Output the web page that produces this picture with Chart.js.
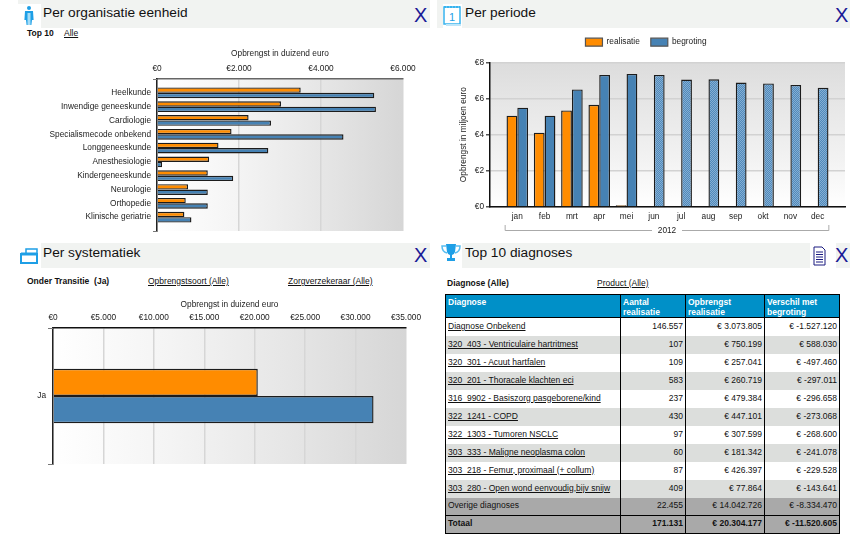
<!DOCTYPE html>
<html><head><meta charset="utf-8">
<script src="https://cdn.jsdelivr.net/npm/chart.js@4"></script>
<style>
html,body{margin:0;padding:0;background:#fff;width:850px;height:546px;overflow:hidden;font-family:"Liberation Sans",Arial,sans-serif;color:#111}
.hdr{position:absolute;background:#f1f3f1}
.ttl{position:absolute;font-size:13.7px;line-height:16px;color:#111;white-space:pre}
.x{position:absolute;font-size:20px;line-height:20px;color:#1a1a96}
.f{position:absolute;font-size:8.5px;line-height:10px;white-space:pre;color:#111}
.b{font-weight:bold}.u{text-decoration:underline}
canvas{position:absolute}
table{position:absolute;left:445px;top:294px;border-collapse:collapse;table-layout:fixed;width:394px;font-size:8.5px;color:#111}
th,td{border-left:1.5px solid #000;border-right:1.5px solid #000;padding:0 2px 2px 2px;overflow:hidden;white-space:nowrap}
th{background:#0090c8;color:#fff;text-align:left;vertical-align:top;height:23px;line-height:10px;padding:2px 2px 0 2px;box-sizing:border-box;border:1.5px solid #000}
td{height:18px;box-sizing:border-box;text-align:right}
td:first-child{text-align:left}
td:first-child span{text-decoration:underline}
tr.s td{background:#dcdedc}
tr.o td{background:#a9a9a9}
tr.t td{background:#a9a9a9;font-weight:bold;border-top:1.5px solid #000;border-bottom:1.5px solid #000;vertical-align:top;padding-top:2px}
</style></head><body>
<div class="hdr" style="left:18px;top:0;width:412px;height:28px"></div>
<div class="hdr" style="left:437px;top:0;width:413px;height:28px"></div>
<div class="hdr" style="left:41px;top:243px;width:389px;height:25px"></div>
<div class="hdr" style="left:462px;top:243px;width:388px;height:25px"></div>
<div style="position:absolute;left:18px;top:4px;width:23px;height:24px;background:#fff"></div>
<div style="position:absolute;left:443px;top:4px;width:19px;height:24px;background:#fff"></div>
<div style="position:absolute;left:810px;top:243px;width:26px;height:27px;background:#fff"></div>
<svg style="position:absolute;left:0;top:0" width="850" height="546">
<g fill="#1e9fe6"><circle cx="29" cy="8" r="2"/><path d="M25 11h8l.6 9h-1.6l-.6 5h-4.8l-.6-5h-1.6z"/></g>
<path d="M27.5 13h3v12h-3z" fill="#a5dcf7"/>
<rect x="444" y="7" width="16" height="17" fill="#fff" stroke="#36b3ee" stroke-width="1.5"/><path d="M444 7h16" stroke="#36b3ee" stroke-width="2" stroke-dasharray="2 1"/>
<rect x="446" y="24" width="15" height="2" fill="#bfe6f9"/>
<text x="449" y="21" font-family="Liberation Sans" font-size="11" fill="#1e9fe6">1</text>
<rect x="26" y="249" width="11" height="9" fill="#fff" stroke="#1e9fe6" stroke-width="1.5"/>
<rect x="21" y="254" width="16" height="9" fill="#fff" stroke="#1e9fe6" stroke-width="2"/><path d="M21 254h16" stroke="#1e9fe6" stroke-width="3"/>
<path d="M446 244h10l-1 8q-1 3-3 3v3h3v3h-8v-3h3v-3q-2 0-3-3z" fill="#1e9fe6"/><path d="M446 246h-4q0 6 5 7M456 246h4q0 6-5 7" fill="none" stroke="#58bdf0" stroke-width="1.5"/>
<path d="M814 247h8l3 3v15h-11z" fill="#fff" stroke="#1a1a80"/><path d="M816 252h7M816 254.500h7M816 257h7M816 259.500h7M816 262h7" stroke="#1a1a80"/>
</svg>
<div class="ttl" style="left:43px;top:5px">Per organisatie eenheid</div>
<div class="ttl" style="left:465px;top:5px">Per periode</div>
<div class="ttl" style="left:43px;top:245px">Per systematiek</div>
<div class="ttl" style="left:465px;top:245px">Top 10 diagnoses</div>
<div class="x" style="left:414px;top:5px">X</div>
<div class="x" style="left:835px;top:5px">X</div>
<div class="x" style="left:414px;top:245px">X</div>
<div class="x" style="left:835px;top:245px">X</div>
<div class="f b" style="left:27px;top:28px">Top 10</div>
<div class="f u" style="left:64px;top:28px">Alle</div>
<div class="f b" style="left:27px;top:276px">Onder Transitie  (Ja)</div>
<div class="f u" style="left:148px;top:276px">Opbrengstsoort (Alle)</div>
<div class="f u" style="left:288px;top:276px">Zorgverzekeraar (Alle)</div>
<div class="f b" style="left:447px;top:278px">Diagnose (Alle)</div>
<div class="f u" style="left:597px;top:278px">Product (Alle)</div>
<canvas id="c1" width="430" height="202" style="left:0;top:40px"></canvas>
<canvas id="c2" width="403" height="213" style="left:447px;top:27px"></canvas>
<canvas id="c3" width="430" height="200" style="left:0;top:280px"></canvas>
<table id="tbl"><colgroup><col style="width:175px"><col style="width:65px"><col style="width:79px"><col style="width:75px"></colgroup><thead><tr id="th"></tr></thead><tbody id="tb"></tbody></table>
<script>
const orgCategories=['Heelkunde','Inwendige geneeskunde','Cardiologie','Specialismecode onbekend','Longgeneeskunde','Anesthesiologie','Kindergeneeskunde','Neurologie','Orthopedie','Klinische geriatrie'];
const orgRealisatie=[3505,3024,2234,1818,1500,1272,1239,758,701,668];
const orgBegroting=[5299,5340,2780,4549,2715,122,1859,1239,1239,840];
const months=['jan','feb','mrt','apr','mei','jun','jul','aug','sep','okt','nov','dec'];
const periodRealisatie=[5.05,4.11,5.34,5.65,0.09,null,null,null,null,null,null,null];
const periodBegroting=[5.49,5.05,6.50,7.30,7.36,7.30,7.05,7.06,6.88,6.83,6.75,6.59];
const forecastFrom=5;
const sysCategories=['Ja'];
const sysRealisatie=[20304];
const sysBegroting=[31780];
const tableHead=['Diagnose','Aantal\nrealisatie','Opbrengst\nrealisatie','Verschil met\nbegroting'];
const tableRows=[
['Diagnose Onbekend','146.557','€ 3.073.805','€ -1.527.120'],
['320_403 - Ventriculaire hartritmest','107','€ 750.199','€ 588.030'],
['320_301 - Acuut hartfalen','109','€ 257.041','€ -497.460'],
['320_201 - Thoracale klachten eci','583','€ 260.719','€ -297.011'],
['316_9902 - Basiszorg pasgeborene/kind','237','€ 479.384','€ -296.658'],
['322_1241 - COPD','430','€ 447.101','€ -273.068'],
['322_1303 - Tumoren NSCLC','97','€ 307.599','€ -268.600'],
['303_333 - Maligne neoplasma colon','60','€ 181.342','€ -241.078'],
['303_218 - Femur, proximaal (+ collum)','87','€ 426.397','€ -229.528'],
['303_280 - Open wond eenvoudig,bijv snijw','409','€ 77.864','€ -143.641']];
const tableOther=['Overige diagnoses','22.455','€ 14.042.726','€ -8.334.470'];
const tableTotal=['Totaal','171.131','€ 20.304.177','€ -11.520.605'];

const ORANGE='#ff8c00',BLUE='#4682b4',EDGE='#1c1c1c',TXT='#222',FONT='"Liberation Sans",Arial,sans-serif',FS=8.3;
Chart.defaults.font.family=FONT;Chart.defaults.font.size=FS;Chart.defaults.color=TXT;Chart.defaults.animation=false;
Chart.defaults.responsive=false;Chart.defaults.devicePixelRatio=1;
const euro=v=>'€'+String(v).replace(/\B(?=(\d{3})+$)/g,'.');
const pad=a=>[null,...a,null];
const padL=a=>['',...a,''];

function plotBg(stops,vertical){return {id:'plotBg',beforeDraw(ch){const a=ch.chartArea,c=ch.ctx;
 const g=vertical?c.createLinearGradient(0,a.top,0,a.bottom):c.createLinearGradient(a.left,0,a.right,0);
 stops.forEach((s,i)=>g.addColorStop(i/(stops.length-1),s));c.save();c.fillStyle=g;c.fillRect(a.left,a.top,a.width,a.height);c.restore();}};}
const endTicks={id:'endTicks',afterDraw(ch){const a=ch.chartArea,c=ch.ctx;c.save();c.strokeStyle='#777';c.lineWidth=1;c.beginPath();
 [a.top,a.bottom].forEach(y=>{c.moveTo(a.left-4,Math.round(y)+.5);c.lineTo(a.left,Math.round(y)+.5);});c.stroke();c.restore();}};
const bracket={id:'bracket',afterDraw(ch){const s=ch.scales.x,c=ch.ctx,st=s.getPixelForValue(2)-s.getPixelForValue(1);
 const l=s.getPixelForValue(1)-st/2+1.5,r=s.getPixelForValue(12)+st/2-2.5,y=203.5,t=198,m=(l+r)/2;
 c.save();c.strokeStyle='#aaa';c.lineWidth=1;c.beginPath();c.moveTo(l,t);c.lineTo(l,y);c.lineTo(m-15,y);c.moveTo(m+15,y);c.lineTo(r,y);c.lineTo(r,t);c.stroke();
 c.fillStyle=TXT;c.font=FS+'px '+FONT;c.textAlign='center';c.textBaseline='middle';c.fillText('2012',m,y);c.restore();}};
const legendGap={id:'legendGap',beforeLayout(ch){const L=ch.legend;if(L&&!L._gap){L._gap=1;const f=L.fit;L.fit=function(){f.call(this);this.height+=6;};}}};
function hatch(){const p=document.createElement('canvas');p.width=p.height=2;const x=p.getContext('2d');x.fillStyle='#4f8abb';x.fillRect(0,0,2,2);x.fillStyle='#86aed3';x.fillRect(0,0,1,1);x.fillRect(1,1,1,1);return x.createPattern(p,'repeat');}

function hbar(id,labels,r,b,o){return new Chart(document.getElementById(id),{type:'bar',
 data:{labels,datasets:[
  {label:'realisatie',data:r,backgroundColor:ORANGE,borderColor:EDGE,borderWidth:o.bw,barPercentage:1,categoryPercentage:o.bp},
  {label:'begroting',data:b,backgroundColor:BLUE,borderColor:EDGE,borderWidth:o.bw,barPercentage:1,categoryPercentage:o.bp}]},
 options:{indexAxis:'y',layout:{padding:{right:o.right,bottom:o.bottom,top:0,left:0}},plugins:{legend:{display:false},tooltip:{enabled:false}},
 scales:{
  x:{position:'top',min:0,max:o.max,ticks:{stepSize:o.step,padding:o.kp,callback:euro,maxRotation:0},
   title:{display:true,text:'Opbrengst in duizend euro',font:{size:FS},color:TXT,padding:{top:o.tt,bottom:0}},
   grid:{color:'#d6d6d6',lineWidth:1.5,drawTicks:false},border:{color:o.topc,width:1.5},afterFit(s){s.height=o.top;}},
  y:{offset:o.offset,ticks:{autoSkip:false,padding:o.tp},grid:{display:true,drawOnChartArea:false,color:'#777',tickLength:o.tl,drawTicks:o.tl>0},border:{color:'#222',width:1.5},afterFit(s){s.width=o.left;}}
 }},plugins:[plotBg(['#ffffff','#f4f4f4','#e6e6e6','#d6d6d6'],false),endTicks]});}

hbar('c1',padL(orgCategories),pad(orgRealisatie),pad(orgBegroting),{bw:1.4,bp:.78,right:27,bottom:11,top:39,left:157,max:6000,step:2000,tt:9,kp:5,offset:false,tp:6,tl:0,topc:'#666'});
hbar('c3',sysCategories,sysRealisatie,sysBegroting,{bw:1.4,bp:.4,right:24,bottom:16,top:48,left:53,max:35000,step:5000,tt:20,kp:5,offset:true,tp:2,tl:5,topc:'#111'});

const hp=hatch();
new Chart(document.getElementById('c2'),{type:'bar',
 data:{labels:padL(months),datasets:[
  {label:'realisatie',data:pad(periodRealisatie),backgroundColor:ORANGE,borderColor:EDGE,borderWidth:1.4,barPercentage:1,categoryPercentage:.79},
  {label:'begroting',data:pad(periodBegroting),backgroundColor:pad(periodBegroting).map((v,i)=>i-1>=forecastFrom?hp:BLUE),borderColor:EDGE,borderWidth:1.4,barPercentage:1,categoryPercentage:.79}]},
 options:{layout:{padding:{right:5,bottom:0,top:0,left:0}},
 plugins:{tooltip:{enabled:false},legend:{position:'top',labels:{boxWidth:17,boxHeight:8,padding:11,font:{size:FS},color:TXT,
   generateLabels:ch=>[{text:'realisatie',fillStyle:ORANGE,strokeStyle:'#555',lineWidth:1.2,datasetIndex:0,fontColor:TXT},{text:'begroting',fillStyle:BLUE,strokeStyle:'#555',lineWidth:1.2,datasetIndex:1,fontColor:TXT}]}}},
 scales:{
  x:{offset:false,ticks:{autoSkip:false,maxRotation:0,minRotation:0,padding:5},grid:{display:false,drawTicks:false},border:{color:'#111',width:1.5},afterFit(s){s.height=33;}},
  y:{min:0,max:8,ticks:{stepSize:2,padding:2,callback:euro},grid:{color:'#d2d2d2',lineWidth:1.5,tickColor:'#555',tickLength:4},border:{color:'#111',width:1.5},
   title:{display:true,text:'Opbrengst in miljoen euro',font:{size:FS},color:TXT,padding:{top:12,bottom:0}},afterFit(s){s.width=43;}}
 }},plugins:[plotBg(['#dcdcdc','#e8e8e8','#f2f2f2','#ffffff'],true),bracket,legendGap]});

document.getElementById('th').innerHTML=tableHead.map(h=>'<th>'+h.replace('\n','<br>')+'</th>').join('');
const row=(r,cls,link)=>'<tr class="'+cls+'">'+r.map((c,i)=>'<td>'+(i==0&&link?'<span>'+c+'</span>':c)+'</td>').join('')+'</tr>';
document.getElementById('tb').innerHTML=tableRows.map((r,i)=>row(r,i%2?'s':'',true)).join('')+row(tableOther,'o')+row(tableTotal,'t');
</script>
</body></html>
